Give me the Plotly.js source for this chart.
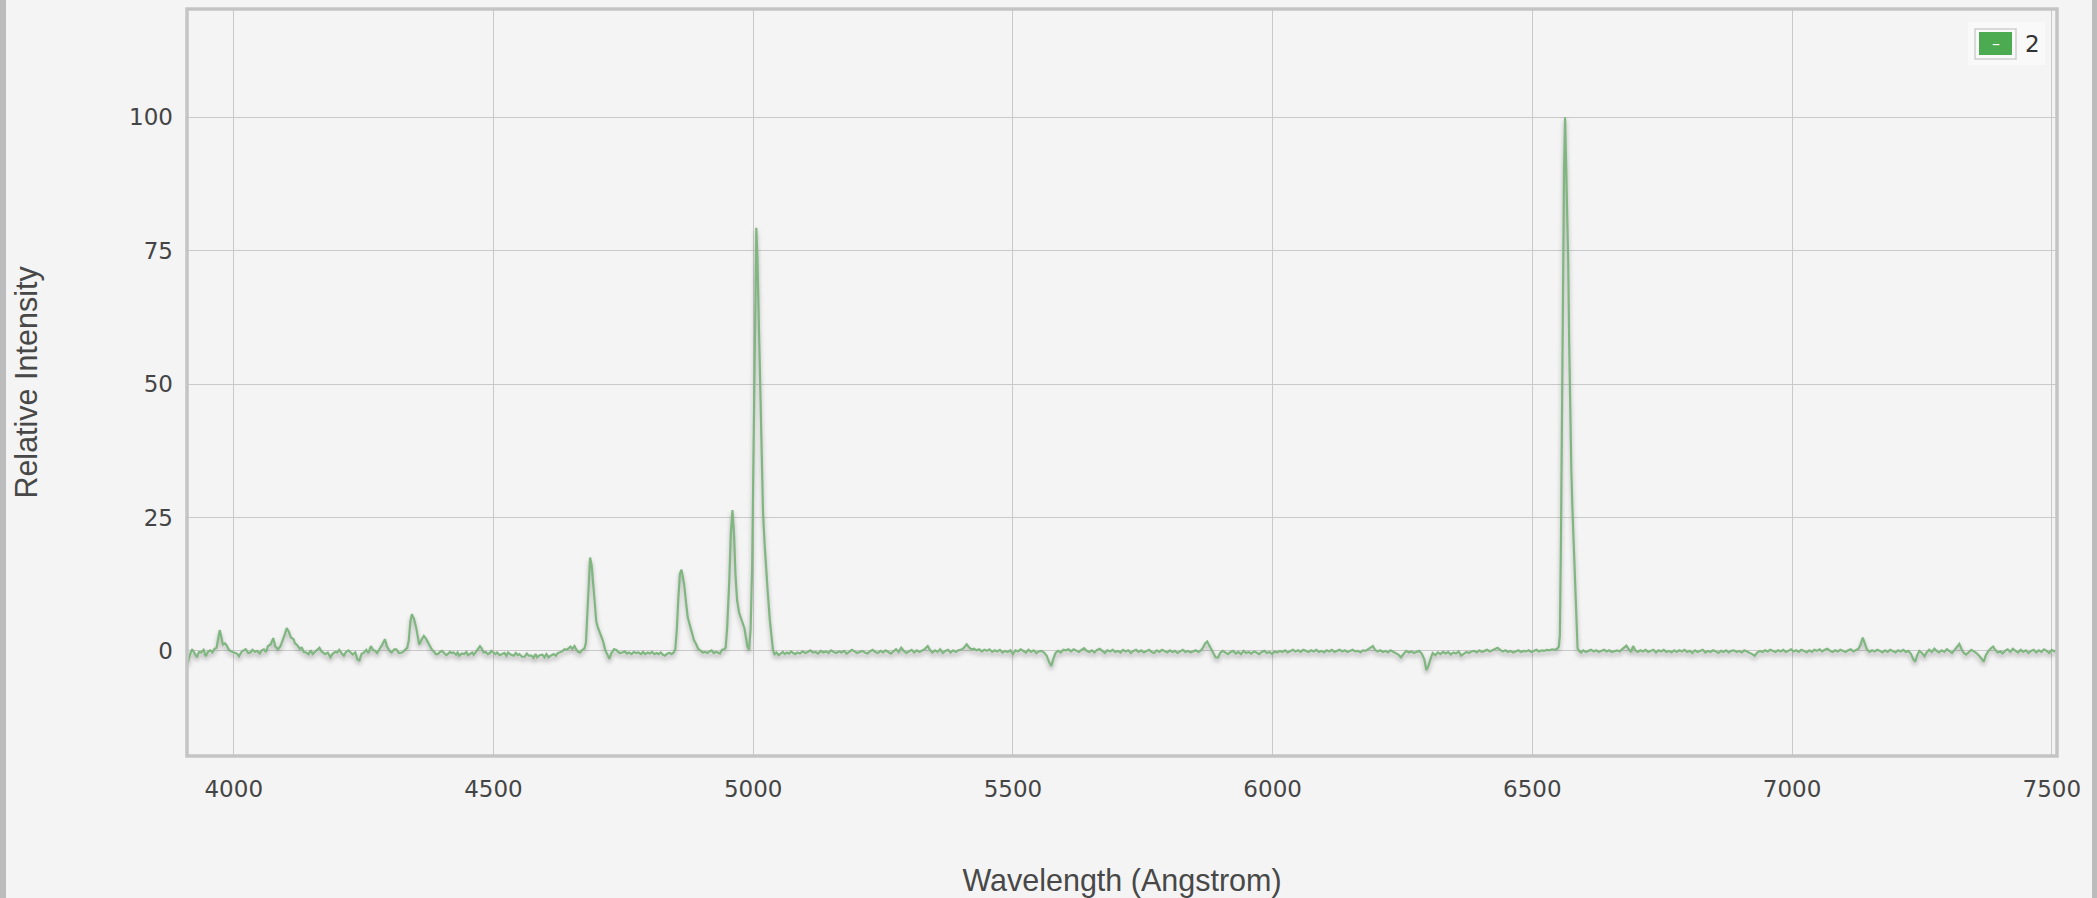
<!DOCTYPE html>
<html>
<head>
<meta charset="utf-8">
<script src="https://cdn.plot.ly/plotly-3.0.1.min.js"></script>
<style>
  html, body { margin: 0; padding: 0; background: #f4f4f4; width: 2097px; height: 898px; overflow: hidden; }
  #chart { position: absolute; left: 0; top: 0; width: 2097px; height: 898px; }
  .edge { position: absolute; top: 0; height: 898px; background: #bcbcbc; pointer-events: none; }
  #chart .scatterlayer .js-line { filter: drop-shadow(0px 3px 2px rgba(0,0,0,0.28)); }
</style>
</head>
<body>
<div id="chart"></div>
<div class="edge" style="left:0;width:6px;"></div>
<div class="edge" style="left:2092px;width:5px;"></div>
<script>
// Spectrum: [wavelength (Angstrom), relative intensity]
const spectrumBlue = [
[3911,-2.5],[3916,-0.6],[3920,0.3],[3925,-0.4],[3929,-1.2],[3933,-0.2],[3937,-0.3],[3942,0.2],[3946,-1.0],[3951,-0.1],
[3955,0.1],[3959,-0.3],[3963,0.4],[3967,0.6],[3970,2.2],[3973,3.9],[3976,2.6],[3979,1.2],[3983,1.4],[3986,1.1],
[3990,0.3],[3993,0.0],[3998,-0.2],[4002,-0.3],[4006,-0.5],[4010,-1.0],[4015,-0.2],[4019,0.1],[4023,0.3],[4028,-0.4],
[4032,-0.3],[4036,0.2],[4041,-0.2],[4045,0.0],[4050,-0.5],[4054,0.1],[4058,0.3],[4062,-0.2],[4066,0.9],[4071,1.2],
[4076,2.4],[4080,0.8],[4085,0.3],[4090,0.9],[4094,1.8],[4098,3.0],[4102,4.3],[4106,3.6],[4110,2.5],[4115,2.2],
[4118,1.4],[4122,1.1],[4127,0.4],[4131,0.6],[4135,-0.2],[4139,-0.3],[4144,-0.6],[4148,0.1],[4152,-0.6],[4156,-0.2],
[4160,0.3],[4165,0.6],[4169,-0.1],[4172,-0.4],[4176,-0.6],[4181,-0.3],[4186,-1.2],[4190,-0.6],[4195,-0.2],[4199,-0.3],
[4203,0.2],[4208,-0.5],[4212,-0.9],[4216,-0.2],[4221,0.1],[4225,-0.3],[4229,-0.7],[4234,-0.3],[4238,-1.6],[4242,-1.8],
[4246,-0.6],[4251,-0.3],[4255,0.2],[4259,-0.4],[4264,0.9],[4268,0.2],[4272,0.0],[4276,-0.4],[4281,0.3],[4286,1.2],
[4291,2.2],[4295,0.8],[4300,0.0],[4304,-0.3],[4309,0.3],[4313,0.3],[4318,-0.4],[4324,-0.3],[4329,0.1],[4334,0.6],
[4337,2.0],[4340,5.5],[4343,6.9],[4347,6.0],[4351,4.4],[4354,2.6],[4357,1.2],[4361,2.0],[4366,2.8],[4370,2.3],
[4374,1.6],[4378,0.8],[4381,0.3],[4386,-0.2],[4389,-0.6],[4393,-0.6],[4397,-0.2],[4401,0.0],[4406,-0.4],[4409,-0.8],
[4412,-0.6],[4416,-0.2],[4419,-0.4],[4423,-0.3],[4428,-0.7],[4431,-0.3],[4434,-0.9],[4439,-0.5],[4444,-0.6],[4448,-0.2],
[4451,-0.8],[4454,-0.6],[4459,-0.3],[4462,-0.7],[4466,-0.3],[4470,0.3],[4474,0.9],[4477,0.5],[4481,-0.3],[4485,-0.2],
[4489,-0.6],[4493,-0.4],[4496,0.0],[4500,-0.3],[4504,-0.6],[4507,-0.3],[4512,-0.8],[4517,-0.6],[4521,-0.4],[4525,-0.9],
[4528,-0.3],[4533,-0.7],[4539,-0.9],[4543,-0.4],[4547,-0.8],[4550,-0.6],[4555,-1.1],[4560,-1.1],[4564,-0.5],[4568,-0.9],
[4573,-0.9],[4577,-1.3],[4581,-0.6],[4584,-1.2],[4589,-0.8],[4594,-0.7],[4598,-1.2],[4602,-0.6],[4606,-1.2],[4610,-0.9],
[4616,-0.6],[4620,-0.9],[4624,-0.4],[4627,-0.3],[4632,-0.1],[4637,0.3],[4641,0.2],[4645,0.5],[4648,0.8],[4652,0.4],
[4656,0.9],[4659,0.3],[4663,-0.2],[4667,-0.3],[4671,0.2],[4675,0.4]
];
const spectrumNebular = [
[4678,1.5],[4681,7.5],[4684,15.0],[4686,17.5],[4689,16.0],[4692,12.5],[4695,8.5],[4698,5.5],[4701,4.4],[4705,3.3],
[4708,2.8],[4711,1.8],[4715,0.2],[4719,-0.6],[4723,-1.5],[4727,-0.4],[4732,0.3],[4736,0.2],[4740,-0.1],[4743,-0.4],
[4748,-0.3],[4753,-0.1],[4757,-0.5],[4761,-0.3],[4766,-0.6],[4770,-0.2],[4775,-0.4],[4779,-0.3],[4784,-0.6],[4788,-0.2],
[4792,-0.6],[4797,-0.3],[4801,-0.5],[4805,-0.2],[4810,-0.6],[4814,-0.4],[4818,-0.6],[4822,-0.3],[4826,-0.7],[4830,-0.9],
[4835,-0.5],[4839,-0.4],[4843,-0.6],[4847,-0.3],[4850,0.3],[4853,4.0],[4856,10.0],[4859,14.5],[4862,15.2],[4865,13.8],
[4867,12.5],[4871,8.8],[4874,6.3],[4877,5.2],[4882,3.1],[4886,2.0],[4890,1.3],[4894,0.4],[4899,0.0],[4903,-0.3],
[4908,-0.2],[4912,-0.4],[4916,-0.1],[4920,0.1],[4924,-0.4],[4928,-0.2],[4932,-0.3],[4936,-0.5],[4940,0.2],[4944,0.3],
[4947,0.6],[4950,4.5],[4954,13.3],[4957,22.0],[4960,26.4],[4963,22.0],[4966,14.0],[4969,9.5],[4973,7.1],[4977,5.8],
[4980,5.0],[4983,4.3],[4986,2.5],[4989,0.8],[4992,0.2],[4995,4.0],[4998,16.0],[5001,40.0],[5004,65.0],[5006,79.3],
[5008,74.0],[5010,65.0],[5012,54.0],[5015,41.0],[5017,33.0],[5019,25.8],[5022,20.0],[5024,16.4],[5028,11.0],[5032,5.8],
[5035,2.5],[5038,0.2],[5041,-0.6],[5045,-0.3],[5049,-0.8],[5053,-0.4],[5057,-0.2],[5061,-0.6],[5065,-0.3],[5069,-0.5],
[5073,-0.1],[5077,-0.4],[5081,-0.6]
];
const spectrumMiddle = [
[5085,-0.3],[5090,-0.5],[5095,-0.1],[5100,-0.4],[5105,-0.2],[5110,0.1],[5115,-0.3],[5120,-0.2],[5125,-0.5],[5130,0.0],
[5135,-0.3],[5140,-0.1],[5145,-0.4],[5150,0.1],[5155,-0.2],[5160,-0.4],[5165,-0.1],[5170,-0.3],[5175,0.0],[5180,-0.5],
[5185,-0.2],[5190,0.2],[5195,-0.1],[5200,-0.4],[5205,-0.2],[5210,0.0],[5215,-0.3],[5220,-0.5],[5225,-0.1],[5230,0.2],
[5235,-0.2],[5240,-0.4],[5245,0.0],[5250,-0.3],[5255,0.1],[5260,-0.2],[5265,-0.5],[5270,-0.1],[5275,0.3],[5280,-0.2],
[5285,0.6],[5290,0.0],[5295,-0.4],[5300,-0.1],[5305,0.2],[5310,-0.3],[5315,0.1],[5320,-0.2],[5325,0.0],[5330,0.3],
[5336,0.9],[5340,0.2],[5345,-0.3],[5350,0.1],[5355,-0.2],[5360,0.3],[5365,-0.4],[5370,0.0],[5375,0.2],[5380,-0.3],
[5385,0.1],[5390,-0.2],[5395,0.1],[5400,0.2],[5405,0.5],[5411,1.25],[5416,0.6],[5420,0.3],[5425,0.4],[5430,0.1],
[5435,0.3],[5440,-0.1],[5445,0.2],[5450,0.0],[5455,0.3],[5460,-0.2],[5465,0.1],[5470,-0.1],[5475,0.2],[5480,-0.3],
[5485,0.0],[5490,-0.2],[5495,0.1],[5500,-0.6],[5505,0.1],[5510,-0.1],[5515,0.3],[5520,0.0],[5525,-0.3],[5530,0.2],
[5535,-0.2],[5540,0.1],[5545,-0.4],[5550,-0.1],[5555,0.0],[5560,-0.3],[5565,-0.9],[5570,-2.2],[5574,-2.8],[5578,-1.5],
[5582,-0.4],[5587,0.0],[5592,-0.3],[5597,0.2],[5602,0.1],[5607,0.3],[5612,-0.1],[5617,0.3],[5622,0.0],[5627,-0.2],
[5632,0.2],[5637,0.5],[5642,0.0],[5647,-0.2],[5652,0.1],[5657,-0.3],[5662,0.2],[5667,0.4],[5672,0.0],[5677,-0.4],
[5682,0.1],[5687,-0.1],[5692,0.2],[5697,-0.2],[5702,0.0],[5707,-0.3],[5712,0.2],[5717,-0.1],[5722,0.1],[5727,-0.4],
[5732,0.0],[5737,0.2],[5742,-0.2],[5747,0.1],[5752,-0.3],[5757,0.0],[5762,0.2],[5767,-0.2],[5772,-0.4],[5777,0.1],
[5782,-0.2],[5787,0.2],[5792,-0.1],[5797,-0.3],[5802,0.1],[5807,-0.2],[5812,0.0],[5817,-0.4],[5822,-0.1],[5827,0.2],
[5832,-0.2],[5837,0.0],[5842,-0.3],[5847,-0.1],[5852,0.1],[5857,-0.2],[5862,0.1],[5866,0.6],[5870,1.4],[5874,1.75],
[5878,1.0],[5882,0.0],[5886,-0.6],[5890,-1.2],[5895,-1.25],[5899,-0.4],[5904,0.0],[5909,-0.3],[5914,-0.6],[5919,-0.2],
[5924,0.0],[5929,-0.5],[5934,-0.2],[5939,-0.6],[5944,0.0],[5949,-0.4],[5954,-0.2],[5959,-0.5],[5964,-0.1],[5969,-0.3],
[5974,-0.6],[5979,-0.2],[5984,0.0],[5989,-0.4],[5994,-0.2],[5999,-0.6],[6004,-0.1],[6009,-0.3],[6014,0.0],[6019,-0.2],
[6024,0.1],[6029,-0.3],[6034,0.0],[6039,0.2],[6044,-0.1],[6049,0.1],[6054,-0.2],[6059,0.2],[6064,0.0],[6069,-0.2],
[6074,0.1],[6079,-0.1],[6084,0.2],[6089,-0.2],[6094,0.0],[6099,-0.3],[6104,0.1],[6109,-0.1],[6114,0.2],[6119,-0.2],
[6124,0.0],[6129,0.2],[6134,-0.1],[6139,0.1],[6144,-0.2],[6149,0.0],[6154,0.2],[6159,-0.1],[6164,0.0],[6169,-0.3],
[6174,0.1],[6179,0.0],[6184,0.3],[6189,0.6],[6193,0.9],[6197,0.2],[6202,-0.1],[6207,0.1],[6212,-0.2],[6217,0.0],
[6222,-0.3],[6227,0.1],[6232,-0.2],[6237,-0.4],[6242,-0.7],[6247,-1.2],[6252,-0.5],[6257,0.0],[6262,-0.3],[6267,-0.1],
[6272,-0.4],[6277,-0.2],[6282,0.0],[6287,-0.5],[6292,-1.6],[6296,-3.6],[6300,-2.8],[6304,-1.5],[6308,-0.4],[6313,-0.8],
[6318,-0.3],[6323,-0.6],[6328,-0.2],[6333,-0.5],[6338,-0.2],[6343,-0.7],[6348,-0.3],[6353,-0.5],[6358,-0.1],[6363,-0.9],
[6368,-0.6],[6373,-0.2],[6378,-0.4],[6383,-0.1],[6388,0.0],[6393,-0.3],[6398,0.1],[6403,-0.2],[6408,0.0],[6413,0.2],
[6418,-0.1],[6423,0.1],[6428,0.3],[6433,0.6],[6438,0.2],[6443,-0.1],[6448,0.1],[6453,-0.2],[6458,0.0],[6463,-0.3],
[6468,-0.1],[6473,0.1],[6478,-0.2],[6483,0.0],[6488,-0.1],[6493,0.1],[6498,-0.2],[6503,0.0],[6508,0.2],[6513,-0.1],
[6518,0.1],[6523,0.0],[6528,0.2],[6533,0.1],[6538,0.3],[6543,0.2],[6548,0.4]
];
const spectrumRed = [
[6551,0.8],[6553,3.0],[6555,20.0],[6557,45.0],[6559,68.0],[6561,90.0],[6563,100.0],[6565,92.0],[6567,82.0],[6569,73.0],
[6571,57.0],[6573,43.0],[6575,34.0],[6577,27.0],[6579,22.0],[6581,15.0],[6583,9.0],[6585,3.5],[6587,0.5],[6590,0.0],
[6594,-0.3],[6598,0.1],[6603,-0.2],[6608,0.0],[6613,0.2],[6618,-0.1],[6623,0.1],[6628,-0.2],[6633,0.0],[6638,0.2],
[6643,-0.1],[6648,0.1],[6653,-0.2],[6658,0.0],[6663,0.1],[6668,-0.1],[6673,0.3],[6677,0.7],[6681,1.0],[6685,0.4],
[6690,-0.2],[6694,0.9],[6698,0.1],[6703,-0.2],[6708,0.1],[6713,-0.1],[6718,0.2],[6723,-0.2],[6728,0.0],[6733,0.2],
[6738,-0.3],[6743,0.1],[6748,-0.1],[6753,0.2],[6758,-0.2],[6763,0.0],[6768,-0.3],[6773,0.1],[6778,-0.2],[6783,0.1],
[6788,-0.1],[6793,0.2],[6798,-0.2],[6803,0.0],[6808,-0.4],[6813,0.1],[6818,-0.2],[6823,0.0],[6828,0.2],[6833,-0.3],
[6838,0.0],[6843,-0.2],[6848,0.1],[6853,-0.1],[6858,-0.4],[6863,0.0],[6868,-0.2],[6873,0.1],[6878,-0.3],[6883,0.0],
[6888,0.1],[6893,-0.2],[6898,0.0],[6903,-0.3],[6908,0.1],[6913,-0.1],[6918,-0.3],[6923,-0.6],[6928,-0.9],[6933,-0.3],
[6938,0.0],[6943,-0.2],[6948,0.1],[6953,-0.1],[6958,0.2],[6963,0.0],[6968,-0.2],[6973,0.1],[6978,-0.1],[6983,0.2],
[6988,-0.2],[6993,0.0],[6998,0.3],[7003,-0.1],[7008,0.1],[7013,-0.2],[7018,0.2],[7023,0.0],[7028,-0.3],[7033,0.1],
[7038,-0.2],[7043,0.2],[7048,0.0],[7053,0.3],[7058,-0.1],[7063,0.2],[7068,0.4],[7073,0.0],[7078,-0.2],[7083,0.1],
[7088,-0.1],[7093,0.2],[7098,0.0],[7103,-0.2],[7108,0.1],[7113,0.3],[7118,-0.1],[7123,0.2],[7128,0.4],[7132,1.2],
[7136,2.5],[7140,1.4],[7144,0.3],[7149,-0.2],[7154,0.1],[7159,-0.1],[7164,0.2],[7169,0.0],[7174,-0.3],[7179,0.1],
[7184,-0.2],[7189,0.2],[7194,0.0],[7199,-0.3],[7204,0.1],[7209,-0.1],[7214,0.2],[7219,-0.2],[7224,0.0],[7229,-0.6],
[7233,-1.5],[7237,-2.0],[7241,-0.8],[7245,0.0],[7250,-0.4],[7255,-1.0],[7259,-0.3],[7264,0.2],[7269,-0.2],[7274,0.4],
[7278,0.0],[7283,-0.3],[7288,0.1],[7293,-0.2],[7298,0.3],[7303,0.0],[7308,-0.4],[7313,0.2],[7318,0.9],[7322,1.3],
[7326,0.4],[7330,-0.3],[7335,-0.7],[7340,-0.2],[7345,0.2],[7350,-0.1],[7355,-0.4],[7360,-0.9],[7365,-1.5],[7369,-2.0],
[7373,-0.8],[7378,0.0],[7383,0.5],[7387,0.8],[7391,0.2],[7396,-0.3],[7401,-0.1],[7405,-0.5],[7410,0.0],[7415,0.3],
[7420,-0.2],[7425,0.4],[7430,0.0],[7435,-0.3],[7440,0.2],[7445,-0.2],[7450,0.1],[7455,-0.4],[7460,0.0],[7465,0.2],
[7470,-0.3],[7475,0.1],[7480,-0.2],[7485,0.3],[7490,0.0],[7495,-0.4],[7500,0.2],[7505,-0.1],[7510,0.2]
];
const seriesName = '2';
const xTickValues = [4000, 4500, 5000, 5500, 6000, 6500, 7000, 7500];
const yTickValues = [0, 25, 50, 75, 100];
const xAxisTitle = 'Wavelength (Angstrom)';
const yAxisTitle = 'Relative Intensity';

const allPoints = spectrumBlue.concat(spectrumNebular, spectrumMiddle, spectrumRed);
const wavelength = allPoints.map(p => p[0]);
const intensity = allPoints.map(p => p[1]);

const W = 2097, H = 898;
const mL = 187, mR = 40, mT = 9, mB = 142;
const pw = W - mL - mR, ph = H - mT - mB;
const px = v => (v - mL) / pw;
const py = v => (H - mB - v) / ph;

const tickFont = { family: 'DejaVu Sans, Verdana, sans-serif', size: 23, color: '#444' };
const titleFont = { family: 'Liberation Sans, Arial, sans-serif', size: 30.5, color: '#484848' };

const trace = {
  x: wavelength, y: intensity, type: 'scatter', mode: 'lines', name: seriesName,
  line: { color: '#80b680', width: 2.2 }, showlegend: false, hoverinfo: 'x+y'
};

const layout = {
  width: W, height: H,
  margin: { l: mL, r: mR, t: mT, b: mB, pad: 0 },
  paper_bgcolor: 'rgba(0,0,0,0)', plot_bgcolor: '#f4f4f4',
  showlegend: false,
  xaxis: {
    range: [3910, 7510], tickvals: xTickValues, ticktext: xTickValues.map(String),
    showgrid: true, gridcolor: '#c9c9c9', gridwidth: 1, zeroline: false,
    showline: false, ticks: '', tickfont: tickFont, ticklabelstandoff: 17,
    title: { text: xAxisTitle, font: titleFont, standoff: 68 }, automargin: false
  },
  yaxis: {
    range: [-19.7, 120.3], tickvals: yTickValues, ticktext: yTickValues.map(String),
    showgrid: true, gridcolor: '#c9c9c9', gridwidth: 1, zeroline: false,
    showline: false, ticks: '', tickfont: tickFont, ticklabelstandoff: 13,
    title: { text: yAxisTitle, font: titleFont, standoff: 82 }, automargin: false
  },
  shapes: [
    { type: 'rect', xref: 'paper', yref: 'paper', x0: 0, x1: 1, y0: 0, y1: 1,
      line: { color: '#c4c4c4', width: 3.5 }, fillcolor: 'rgba(0,0,0,0)', layer: 'above' },
    { type: 'rect', xref: 'paper', yref: 'paper', x0: px(1968), x1: px(2045), y0: py(65), y1: py(22),
      line: { width: 0 }, fillcolor: '#f9f9f9', layer: 'above' },
    { type: 'rect', xref: 'paper', yref: 'paper', x0: px(1975), x1: px(2016), y0: py(59), y1: py(29),
      line: { color: '#cfcfcf', width: 1.5 }, fillcolor: '#f9f9f9', layer: 'above' },
    { type: 'rect', xref: 'paper', yref: 'paper', x0: px(1979), x1: px(2012), y0: py(55), y1: py(32),
      line: { width: 0 }, fillcolor: '#4caa50', layer: 'above' }
  ],
  annotations: [
    { xref: 'paper', yref: 'paper', x: px(1995.5), y: py(43), text: '–', showarrow: false,
      font: { family: 'DejaVu Sans, sans-serif', size: 16, color: '#ffffff' }, xanchor: 'center', yanchor: 'middle' },
    { xref: 'paper', yref: 'paper', x: px(2023), y: py(44), text: seriesName, showarrow: false,
      font: { family: 'DejaVu Sans, sans-serif', size: 23, color: '#333' }, xanchor: 'left', yanchor: 'middle' }
  ]
};

Plotly.newPlot('chart', [trace], layout, { displayModeBar: false, responsive: false, staticPlot: true });
</script>
</body>
</html>
